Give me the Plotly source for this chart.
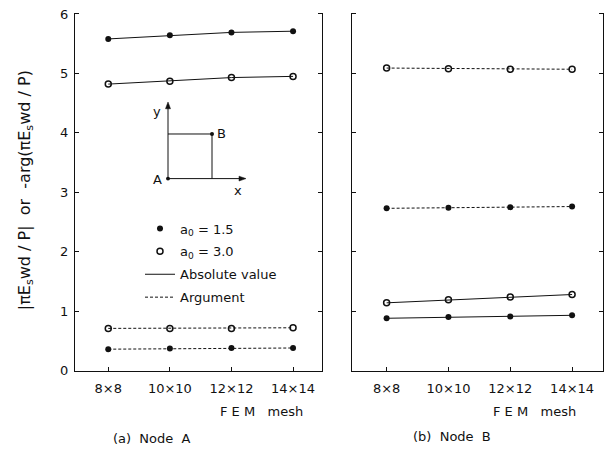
import plotly.graph_objects as go

W, H = 614, 461

meshes = ["8\u00d78", "10\u00d710", "12\u00d712", "14\u00d714"]
xpos = [0, 1, 2, 3]

# Node A
a_abs_15 = [5.58, 5.64, 5.69, 5.71]
a_abs_30 = [4.82, 4.87, 4.93, 4.95]
a_arg_15 = [0.36, 0.37, 0.38, 0.38]
a_arg_30 = [0.71, 0.71, 0.71, 0.72]
# Node B
b_abs_15 = [0.88, 0.90, 0.91, 0.93]
b_abs_30 = [1.14, 1.19, 1.24, 1.28]
b_arg_15 = [2.73, 2.74, 2.75, 2.76]
b_arg_30 = [5.09, 5.08, 5.07, 5.07]

yticks = [0, 1, 2, 3, 4, 5, 6]

FONT = "DejaVu Sans"
BLACK = "#111111"
DASH = "3px,2px"


def px(x):
    return x / W


def py(y):
    return 1 - y / H


fig = go.Figure()

filled = dict(symbol="circle", size=6, color=BLACK, line=dict(width=0))
opened = dict(symbol="circle-open", size=6, color=BLACK, line=dict(width=1.5))


def add(xa, ya, ys, marker, dash):
    fig.add_trace(go.Scatter(
        x=xpos, y=ys, xaxis=xa, yaxis=ya, mode="lines+markers",
        line=dict(color=BLACK, width=1, dash=dash), marker=marker,
        showlegend=False, hoverinfo="skip"))


add("x", "y", a_abs_15, filled, "solid")
add("x", "y", a_abs_30, opened, "solid")
add("x", "y", a_arg_15, filled, DASH)
add("x", "y", a_arg_30, opened, DASH)
add("x2", "y2", b_abs_15, filled, "solid")
add("x2", "y2", b_abs_30, opened, "solid")
add("x2", "y2", b_arg_15, filled, DASH)
add("x2", "y2", b_arg_30, opened, DASH)

# legend entries
fig.add_trace(go.Scatter(x=[None], y=[None], mode="markers", marker=filled,
                         name="a<sub>0</sub> = 1.5", legendgroup="g1"))
fig.add_trace(go.Scatter(x=[None], y=[None], mode="markers", marker=opened,
                         name="a<sub>0</sub> = 3.0", legendgroup="g2"))
fig.add_trace(go.Scatter(x=[None], y=[None], mode="lines",
                         line=dict(color=BLACK, width=1), name="Absolute value",
                         legendgroup="g3"))
fig.add_trace(go.Scatter(x=[None], y=[None], mode="lines",
                         line=dict(color=BLACK, width=1, dash=DASH), name="Argument",
                         legendgroup="g4"))

xcommon = dict(tickmode="array", tickvals=xpos, ticktext=meshes, ticks="inside",
               ticklen=4, tickcolor=BLACK, showline=True, linecolor=BLACK,
               linewidth=1, showgrid=False, zeroline=False, ticklabelstandoff=6,
               tickfont=dict(family=FONT, size=13, color=BLACK))
ycommon = dict(range=[0, 6.02], tickmode="array", tickvals=yticks, ticks="inside",
               ticklen=4, tickcolor=BLACK, showline=True, linecolor=BLACK,
               linewidth=1, mirror="ticks", showgrid=False, zeroline=False,
               tickfont=dict(family=FONT, size=13, color=BLACK))

ybot, ytop = 376, 7
fig.update_layout(
    width=W, height=H,
    margin=dict(l=0, r=0, t=0, b=0),
    paper_bgcolor="white", plot_bgcolor="white",
    font=dict(family=FONT, color=BLACK),
    xaxis=dict(domain=[px(75), px(322)], range=[-0.54, 3.47], anchor="y", **xcommon),
    yaxis=dict(domain=[py(ybot), py(ytop)], anchor="x", showticklabels=True,
               ticklabelstandoff=3, **ycommon),
    xaxis2=dict(domain=[px(352), px(603)], range=[-0.56, 3.5], anchor="y2", **xcommon),
    yaxis2=dict(domain=[py(ybot), py(ytop)], anchor="x2", showticklabels=False,
                **ycommon),
    legend=dict(x=px(140), y=py(214), xanchor="left", yanchor="top",
                bgcolor="rgba(0,0,0,0)", font=dict(family=FONT, size=13, color=BLACK),
                tracegroupgap=3, itemwidth=30),
)

ann = [
    dict(x=px(25), y=py(190), text="|\u03c0E<sub>s</sub>wd / P|  or  -arg(\u03c0E<sub>s</sub>wd / P)",
         textangle=-90, font=dict(size=16)),
    dict(x=px(305), y=py(418), text="F E M   mesh", xanchor="right", font=dict(size=13)),
    dict(x=px(578), y=py(418), text="F E M   mesh", xanchor="right", font=dict(size=13)),
    dict(x=px(152), y=py(446), text="(a)  Node  A", font=dict(size=13)),
    dict(x=px(452), y=py(444), text="(b)  Node  B", font=dict(size=13)),
    dict(x=px(157), y=py(179), text="A", font=dict(size=13)),
    dict(x=px(221), y=py(132), text="B", font=dict(size=13)),
    dict(x=px(157), y=py(109), text="y", font=dict(size=13)),
    dict(x=px(238), y=py(190), text="x", font=dict(size=13)),
]
for a in ann:
    a.setdefault("xref", "paper")
    a.setdefault("yref", "paper")
    a.setdefault("xanchor", "center")
    a.setdefault("yanchor", "middle")
    a.setdefault("showarrow", False)
    a["font"] = dict(family=FONT, color=BLACK, **a["font"])
    fig.add_annotation(**a)

# inset sketch of the element (x-y axes, nodes A and B)
line = dict(color=BLACK, width=1)


def seg(x0, y0, x1, y1):
    fig.add_shape(type="line", xref="paper", yref="paper", x0=px(x0), y0=py(y0),
                  x1=px(x1), y1=py(y1), line=line)


def tri(pts):
    p = "M " + " L ".join(f"{px(a):.5f},{py(b):.5f}" for a, b in pts) + " Z"
    fig.add_shape(type="path", xref="paper", yref="paper", path=p,
                  fillcolor=BLACK, line=dict(color=BLACK, width=0.5))


seg(168, 178, 168, 104)
tri([(168, 99), (165.5, 106), (170.5, 106)])
seg(168, 178, 241, 178)
tri([(246, 178), (239, 175.5), (239, 180.5)])
seg(168, 132, 212, 132)
seg(212, 132, 212, 178)
for cx, cy in [(168, 178), (212, 132)]:
    fig.add_shape(type="circle", xref="paper", yref="paper", x0=px(cx - 2), x1=px(cx + 2),
                  y0=py(cy + 2), y1=py(cy - 2), fillcolor=BLACK, line=dict(width=0))

fig.write_html("out.html")
